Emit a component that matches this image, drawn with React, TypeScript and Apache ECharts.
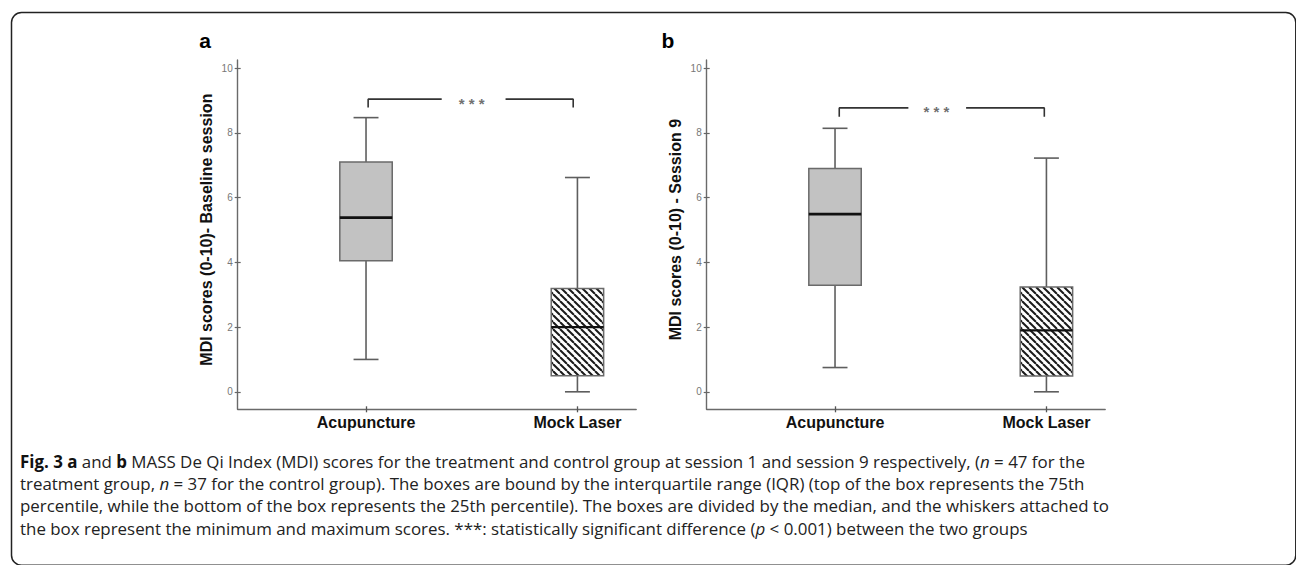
import React, { useEffect, useRef } from 'react';
import * as echarts from 'echarts';

// ---------- data ----------
const categories = ['Acupuncture', 'Mock Laser'];
const categoryPositions = [1, 2];
const yTicks = [0, 2, 4, 6, 8, 10];
const panelLetters = ['a', 'b'];
const yAxisNames = ['MDI scores (0-10)- Baseline session', 'MDI scores (0-10) - Session 9'];

// [min, Q1, median, Q3, max]
const baselineStats = [
  [1.0, 4.05, 5.38, 7.1, 8.47],
  [0.0, 0.5, 2.0, 3.19, 6.62],
];
const session9Stats = [
  [0.75, 3.29, 5.49, 6.9, 8.14],
  [0.0, 0.49, 1.9, 3.24, 7.22],
];

// significance brackets (data units): left half, right half, star position
const baselineBracketLeft = [[1.01, 8.78], [1.01, 9.04], [1.358, 9.04]];
const baselineBracketRight = [[1.66, 9.04], [1.98, 9.04], [1.98, 8.78]];
const baselineStar = [[1.5, 9.04]];
const session9BracketLeft = [[1.02, 8.5], [1.02, 8.77], [1.347, 8.77]];
const session9BracketRight = [[1.62, 8.77], [1.99, 8.77], [1.99, 8.5]];
const session9Star = [[1.48, 8.77]];

const captionLines = [
  '{b|Fig. 3 a} and {b|b} MASS De Qi Index (MDI) scores for the treatment and control group at session 1 and session 9 respectively, ({i|n} = 47 for the',
  'treatment group, {i|n} = 37 for the control group). The boxes are bound by the interquartile range (IQR) (top of the box represents the 75th',
  'percentile, while the bottom of the box represents the 25th percentile). The boxes are divided by the median, and the whiskers attached to',
  'the box represent the minimum and maximum scores. ***: statistically significant difference ({i|p} < 0.001) between the two groups',
];

// ---------- style ----------
const FONT = '"Liberation Sans", Arial, sans-serif';
const CAPTION_FONT = '"Open Sans", sans-serif';
const CAPTION_SIZE = 16.9;
const BOX_WIDTH = 0.248;
const CAP_WIDTH = 0.118;
const X_MIN = 0.393;
const X_MAX = 2.278;
const Y_MIN = -0.54;
const Y_MAX = 10.25;

function makeHatch() {
  const s = 7;
  const c = document.createElement('canvas');
  c.width = s;
  c.height = s;
  const ctx = c.getContext('2d')!;
  ctx.fillStyle = '#ffffff';
  ctx.fillRect(0, 0, s, s);
  ctx.strokeStyle = '#1a1a1a';
  ctx.lineWidth = 2;
  for (const k of [-1, 0, 1]) {
    ctx.beginPath();
    ctx.moveTo(k * s, 0);
    ctx.lineTo(k * s + s, s);
    ctx.stroke();
  }
  return c;
}

function buildOption() {
  const hatch = { image: makeHatch(), repeat: 'repeat', imageWidth: 7, imageHeight: 7 } as any;
  const panels = [
    { stats: baselineStats, left: baselineBracketLeft, right: baselineBracketRight, star: baselineStar, gridLeft: 237.7 },
    { stats: session9Stats, left: session9BracketLeft, right: session9BracketRight, star: session9Star, gridLeft: 706.7 },
  ];

  const grid: any[] = [];
  const xAxis: any[] = [];
  const yAxis: any[] = [];
  const series: any[] = [];

  panels.forEach((p, i) => {
    grid.push({ left: p.gridLeft, top: 60, width: 398.5, height: 349.3 });
    xAxis.push({
      type: 'value', gridIndex: i, position: 'bottom', min: X_MIN, max: X_MAX,
      axisLine: { show: true, onZero: false, lineStyle: { color: '#6a6a6a', width: 1.4 } },
      axisTick: { show: true, customValues: categoryPositions, length: 3, lineStyle: { color: '#555', width: 1.3 } },
      axisLabel: {
        customValues: categoryPositions,
        formatter: (v: number) => categories[Math.round(v) - 1] ?? '',
        fontFamily: FONT, fontWeight: 'bold', fontSize: 16, color: '#111', margin: 5,
      },
      splitLine: { show: false },
    });
    xAxis.push({
      type: 'value', gridIndex: i, position: 'bottom', min: X_MIN, max: X_MAX,
      axisLine: { show: false, onZero: false },
      axisTick: { show: true, inside: true, customValues: categoryPositions, length: 3, lineStyle: { color: '#555', width: 1.3 } },
      axisLabel: { show: false },
      splitLine: { show: false },
    });
    yAxis.push({
      type: 'value', gridIndex: i, position: 'left', min: Y_MIN, max: Y_MAX,
      name: yAxisNames[i], nameLocation: 'middle', nameGap: 23,
      nameTextStyle: { fontFamily: FONT, fontWeight: 'bold', fontSize: 16, color: '#111', padding: [0, 0, 0, 10] },
      axisLine: { show: true, onZero: false, lineStyle: { color: '#6a6a6a', width: 1.4 } },
      axisTick: { show: true, customValues: yTicks, length: 3, lineStyle: { color: '#666', width: 1.2 } },
      axisLabel: { customValues: yTicks, fontFamily: FONT, fontSize: 10, color: '#777', margin: 5 },
      splitLine: { show: false },
    });
    yAxis.push({
      type: 'value', gridIndex: i, position: 'left', min: Y_MIN, max: Y_MAX,
      axisLine: { show: false, onZero: false },
      axisTick: { show: true, inside: true, customValues: yTicks, length: 3, lineStyle: { color: '#666', width: 1.2 } },
      axisLabel: { show: false },
      splitLine: { show: false },
    });

    series.push({
      type: 'custom',
      xAxisIndex: i * 2,
      yAxisIndex: i * 2,
      clip: false,
      silent: true,
      encode: { x: 0, y: [1, 2, 3, 4, 5] },
      data: p.stats.map((s, k) => [categoryPositions[k], ...s, k]),
      renderItem: (_params: any, api: any) => {
        const x = api.value(0);
        const lo = api.coord([x, api.value(1)]);
        const q1 = api.coord([x, api.value(2)]);
        const med = api.coord([x, api.value(3)]);
        const q3 = api.coord([x, api.value(4)]);
        const hi = api.coord([x, api.value(5)]);
        const kind = api.value(6);
        const hb = api.size([BOX_WIDTH, 0])[0] / 2;
        const hc = api.size([CAP_WIDTH, 0])[0] / 2;
        const cx = lo[0];
        const whisker = { stroke: '#5e5e5e', lineWidth: 1.6 };
        return {
          type: 'group',
          children: [
            { type: 'line', shape: { x1: cx, y1: lo[1], x2: cx, y2: hi[1] }, style: whisker },
            { type: 'line', shape: { x1: cx - hc, y1: lo[1], x2: cx + hc, y2: lo[1] }, style: whisker },
            { type: 'line', shape: { x1: cx - hc, y1: hi[1], x2: cx + hc, y2: hi[1] }, style: whisker },
            {
              type: 'rect',
              shape: { x: cx - hb, y: q3[1], width: hb * 2, height: q1[1] - q3[1] },
              style: { fill: kind === 0 ? '#c2c2c2' : hatch, stroke: '#6a6a6a', lineWidth: 1.5 },
            },
            { type: 'line', shape: { x1: cx - hb, y1: med[1], x2: cx + hb, y2: med[1] }, style: { stroke: '#111', lineWidth: kind === 0 ? 2.6 : 2.2 } },
          ],
        };
      },
    });
    [p.left, p.right].forEach((d) => {
      series.push({
        type: 'line', xAxisIndex: i * 2, yAxisIndex: i * 2, data: d, symbol: 'none', silent: true,
        lineStyle: { color: '#333', width: 1.6 },
      });
    });
    series.push({
      type: 'scatter', xAxisIndex: i * 2, yAxisIndex: i * 2, data: p.star, symbolSize: 1, silent: true,
      itemStyle: { color: 'rgba(0,0,0,0)' },
      label: { show: true, position: 'inside', formatter: '* * *', fontFamily: FONT, fontWeight: 'bold', fontSize: 15, color: '#4a4a4a', offset: [0, 4] },
    });
  });

  const graphic: any[] = [
    {
      type: 'rect', left: 9, top: 10, silent: true,
      shape: { x: 0, y: 0, width: 1284.3, height: 552.7, r: 10 },
      style: { fill: 'none', stroke: '#222', lineWidth: 1.5 },
    },
    { type: 'text', x: 205, y: 40.5, silent: true, style: { text: panelLetters[0], font: `bold 21px ${FONT}`, fill: '#000', align: 'center', verticalAlign: 'middle' } },
    { type: 'text', x: 668, y: 40.5, silent: true, style: { text: panelLetters[1], font: `bold 21px ${FONT}`, fill: '#000', align: 'center', verticalAlign: 'middle' } },
  ];
  captionLines.forEach((line, k) => {
    graphic.push({
      type: 'text', x: 20, y: 461 + k * 22.4, silent: true,
      style: {
        text: line,
        fontFamily: CAPTION_FONT, fontSize: CAPTION_SIZE, fill: '#222', verticalAlign: 'middle', align: 'left',
        rich: {
          b: { fontFamily: CAPTION_FONT, fontSize: CAPTION_SIZE, fontWeight: 'bold', fill: '#111' },
          i: { fontFamily: CAPTION_FONT, fontSize: CAPTION_SIZE, fontStyle: 'italic', fill: '#222' },
        },
      },
    });
  });

  return {
    animation: false,
    backgroundColor: '#ffffff',
    grid,
    xAxis,
    yAxis,
    series,
    graphic,
  };
}

export default function App() {
  const ref = useRef<HTMLDivElement>(null);
  useEffect(() => {
    if (!ref.current) return;
    const chart = echarts.init(ref.current, undefined, { renderer: 'svg' });
    chart.setOption(buildOption() as any);
    return () => chart.dispose();
  }, []);
  return <div ref={ref} style={{ position: 'absolute', left: 0, top: 0, width: 1296, height: 565 }} />;
}
